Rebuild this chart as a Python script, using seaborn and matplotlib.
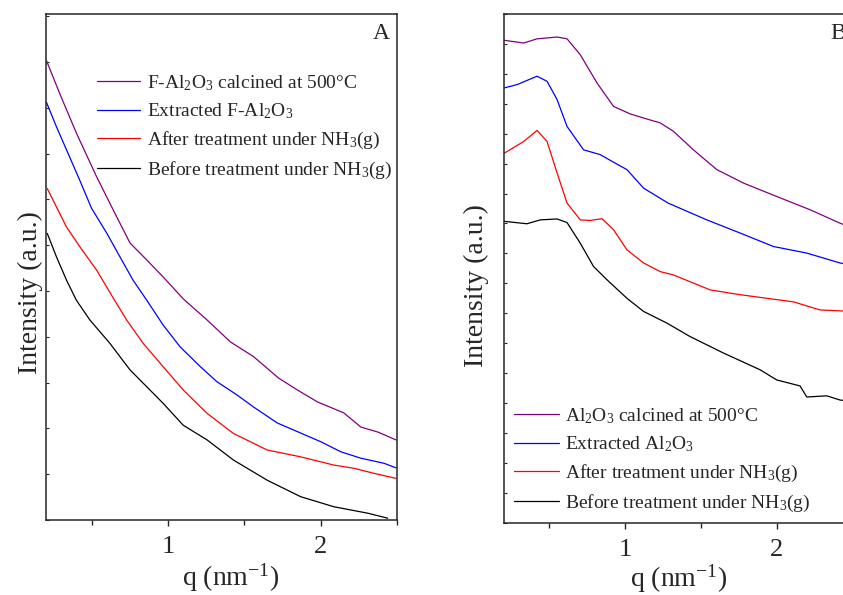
import numpy as np
import pandas as pd
import seaborn as sns
import matplotlib.pyplot as plt
from matplotlib.ticker import MultipleLocator

# datos (q en nm-1, intensidad en unidades arbitrarias)

# Panel A: F-Al2O3
qA_calc = [0.202, 0.289, 0.399, 0.531, 0.651, 0.75, 0.86, 0.967, 1.099, 1.255, 1.408, 1.559,
           1.724, 1.847, 1.978, 2.151, 2.263, 2.375, 2.493]
iA_calc = [10.04, 9.32, 8.45, 7.50, 6.70, 6.05, 5.68, 5.31, 4.83, 4.37, 3.89, 3.57,
           3.10, 2.84, 2.58, 2.34, 2.03, 1.92, 1.75]

qA_extr = [0.202, 0.268, 0.344, 0.421, 0.498, 0.597, 0.684, 0.770, 0.86, 0.967, 1.079, 1.211,
           1.32, 1.452, 1.559, 1.715, 1.868, 2.0, 2.132, 2.263, 2.414, 2.493]
iA_extr = [9.13, 8.59, 8.01, 7.42, 6.81, 6.27, 5.75, 5.24, 4.80, 4.26, 3.78, 3.35,
           3.02, 2.73, 2.47, 2.12, 1.90, 1.71, 1.49, 1.35, 1.24, 1.14]

qA_after = [0.208, 0.268, 0.334, 0.421, 0.531, 0.640, 0.728, 0.836, 0.967, 1.099, 1.255, 1.428,
            1.649, 1.868, 2.086, 2.217, 2.349, 2.493]
iA_after = [7.24, 6.84, 6.40, 5.97, 5.46, 4.85, 4.37, 3.86, 3.35, 2.84, 2.33, 1.89,
            1.53, 1.38, 1.20, 1.13, 1.02, 0.91]

qA_before = [0.208, 0.268, 0.334, 0.399, 0.487, 0.618, 0.75, 0.86, 0.967, 1.099, 1.255, 1.428,
             1.649, 1.868, 2.086, 2.307, 2.439]
iA_before = [6.26, 5.75, 5.24, 4.80, 4.37, 3.86, 3.28, 2.91, 2.55, 2.07, 1.75, 1.31,
             0.87, 0.51, 0.29, 0.15, 0.04]

# Panel B: Al2O3
qB_calc = [0.202, 0.330, 0.418, 0.550, 0.616, 0.703, 0.813, 0.923, 1.033, 1.143, 1.231, 1.318,
           1.450, 1.604, 1.780, 2.0, 2.219, 2.417, 2.5]
iB_calc = [16.12, 16.03, 16.17, 16.23, 16.17, 15.64, 14.70, 13.91, 13.66, 13.49, 13.36, 13.08,
           12.46, 11.80, 11.35, 10.90, 10.46, 10.01, 9.85]

qB_extr = [0.202, 0.286, 0.418, 0.484, 0.550, 0.616, 0.725, 0.835, 0.932, 1.011, 1.121, 1.283,
           1.538, 1.758, 1.978, 2.198, 2.417, 2.5]
iB_extr = [14.53, 14.64, 14.92, 14.75, 14.14, 13.24, 12.46, 12.30, 12.02, 11.80, 11.18, 10.68,
           10.12, 9.68, 9.23, 9.01, 8.68, 8.60]

qB_after = [0.202, 0.330, 0.418, 0.484, 0.550, 0.616, 0.703, 0.769, 0.846, 0.923, 1.011, 1.121,
            1.231, 1.318, 1.560, 1.758, 1.934, 2.110, 2.285, 2.417, 2.5]
iB_after = [12.35, 12.74, 13.11, 12.74, 11.69, 10.68, 10.12, 10.10, 10.16, 9.79, 9.12, 8.68,
            8.39, 8.28, 7.78, 7.62, 7.50, 7.38, 7.11, 7.08, 7.05]

qB_before = [0.202, 0.351, 0.440, 0.550, 0.616, 0.703, 0.791, 0.879, 1.011, 1.121, 1.275, 1.428,
             1.648, 1.890, 2.0, 2.154, 2.198, 2.330, 2.417, 2.5]
iB_before = [10.07, 9.99, 10.12, 10.15, 10.03, 9.34, 8.56, 8.12, 7.50, 7.06, 6.67, 6.22,
             5.67, 5.11, 4.77, 4.57, 4.20, 4.24, 4.10, 4.05]

labelsA = ["F-Al$_2$O$_3$ calcined at 500°C", "Extracted F-Al$_2$O$_3$",
           "After treatment under NH$_3$(g)", "Before treatment under NH$_3$(g)"]
labelsB = ["Al$_2$O$_3$ calcined at 500°C", "Extracted Al$_2$O$_3$",
           "After treatment under NH$_3$(g)", "Before treatment under NH$_3$(g)"]
colores = ["#800080", "#0000ff", "#ff0000", "#000000"]

#%% estilo
sns.set_style("ticks")
plt.rcParams['font.family'] = ['Liberation Serif', 'DejaVu Serif']
plt.rcParams['mathtext.fontset'] = 'custom'
plt.rcParams['mathtext.rm'] = 'Liberation Serif'
plt.rcParams['mathtext.it'] = 'Liberation Serif:italic'
plt.rcParams['axes.linewidth'] = 1.1

fig = plt.figure(figsize=(8.43, 5.95), dpi=100)
axA = fig.add_axes([0.0546, 0.126, 0.4164, 0.8504])
axB = fig.add_axes([0.5979, 0.1215, 0.4134, 0.855])  # se sale por la derecha, como en el original

seriesA = [(qA_calc, iA_calc), (qA_extr, iA_extr), (qA_after, iA_after), (qA_before, iA_before)]
seriesB = [(qB_calc, iB_calc), (qB_extr, iB_extr), (qB_after, iB_after), (qB_before, iB_before)]

for ax, series, labels, ylim in [(axA, seriesA, labelsA, 11.05), (axB, seriesB, labelsB, 17.0)]:
    for (q, inten), lab, col in zip(series, labels, colores):
        sns.lineplot(x=q, y=inten, color=col, label=lab, lw=0.9, ax=ax,
                     sort=False, estimator=None)
    ax.set_xlim(0.2, 2.5)
    ax.set_ylim(0, ylim)
    ax.xaxis.set_major_locator(MultipleLocator(1))
    ax.xaxis.set_minor_locator(MultipleLocator(0.5))
    ax.yaxis.set_major_locator(MultipleLocator(1))
    ax.tick_params(axis='x', which='major', direction='out', length=4.5, width=1, labelsize=19, pad=7)
    ax.tick_params(axis='x', which='minor', direction='out', length=3.5, width=1)
    ax.tick_params(axis='y', which='major', direction='in', length=2.5, width=0.8, labelleft=False)
    ax.set_xlabel("q (nm$^{-1}$)", fontsize=20)
    ax.set_ylabel("Intensity (a.u.)", fontsize=20)

# posiciones de etiquetas
axA.xaxis.set_label_coords(0.527, -0.082)
axB.xaxis.set_label_coords(0.5, -0.078)
axA.yaxis.set_label_coords(-0.01, 0.45)
axB.yaxis.set_label_coords(-0.042, 0.466)

axA.text(0.98, 0.982, "A", transform=axA.transAxes, ha='right', va='top', fontsize=17)
axB.text(0.98, 0.982, "B", transform=axB.transAxes, ha='right', va='top', fontsize=17)

# leyendas
axA.legend(loc='upper left', bbox_to_anchor=(0.145, 0.883), frameon=False, fontsize=14,
           handlelength=2.24, handletextpad=0.36, labelspacing=0.45, borderpad=0, borderaxespad=0)
axB.legend(loc='upper left', bbox_to_anchor=(0.029, 0.229), frameon=False, fontsize=14,
           handlelength=2.3, handletextpad=0.3, labelspacing=0.45, borderpad=0, borderaxespad=0)

plt.savefig("out.png", dpi=100)
